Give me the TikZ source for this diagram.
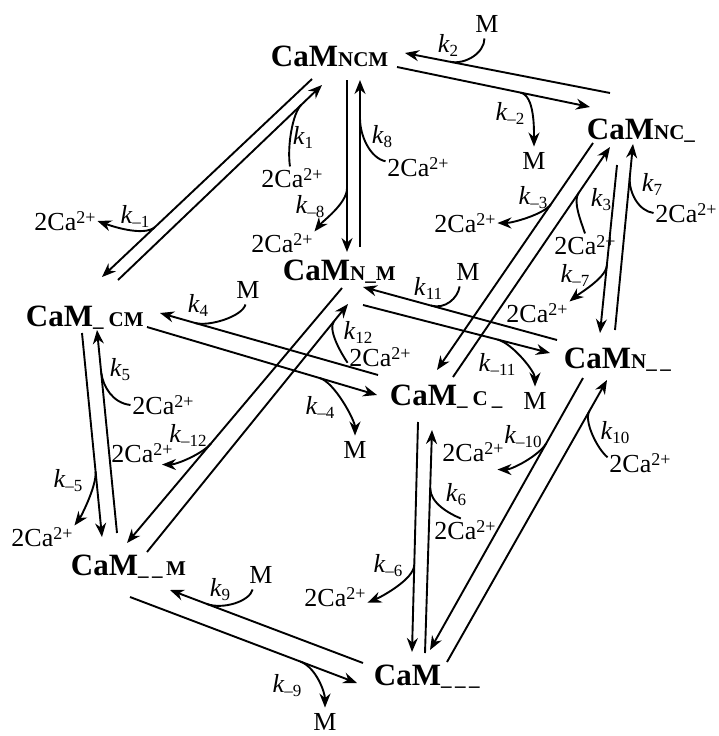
\documentclass[tikz,border=0pt]{standalone}
\usepackage{fontspec}
\setmainfont{Liberation Serif}
\usetikzlibrary{arrows.meta}

\newcommand{\sfx}[1]{{\fontsize{21}{21}\selectfont #1}}
\newcommand{\kk}[1]{\textit{k}\raisebox{-4pt}{\fontsize{17}{17}\selectfont #1}}
\newcommand{\caion}{2Ca\raisebox{7pt}{\fontsize{18}{18}\selectfont 2+}}

\begin{document}
\begin{tikzpicture}[x=1pt, y=-1pt, line width=1.9pt, >={Stealth[length=14pt,width=11pt]},
    cam/.style={font=\fontsize{31}{33}\selectfont\bfseries, inner sep=0pt, anchor=base west},
    lbl/.style={font=\fontsize{26}{28}\selectfont, inner sep=1pt},
    mol/.style={lbl, inner sep=5pt}]
    \useasboundingbox (0,0) rectangle (719,736);

    % Состояния
    \node[cam] (camNCM) at (270,66)  {CaM\sfx{NCM}};
    \node[cam] (camNC)  at (586,139) {CaM\sfx{NC\_}};
    \node[cam] (camCM)  at (25,326)  {CaM\sfx{\_\hspace{5pt}CM}};
    \node[cam] (camNM)  at (282,280) {CaM\sfx{N\_M}};
    \node[cam] (camN)   at (563,368) {CaM\sfx{N\_\,\_}};
    \node[cam] (camC)   at (389,405) {CaM\sfx{\_\hspace{5pt}C\hspace{4pt}\_}};
    \node[cam] (camM)   at (70,575)  {CaM\sfx{\_\,\_\,M}};
    \node[cam] (cam0)   at (373,685) {CaM\sfx{\_\,\_\,\_}};

    % k2 / k-2: NCM <-> NC_
    \coordinate (f2s) at (610,93);  \coordinate (f2e) at (405,53);
    \coordinate (r2s) at (397,67);  \coordinate (r2e) at (590,107);
    \draw[->] (f2s) -- (f2e) coordinate[pos=.78] (j2);
    \draw[->] (r2s) -- (r2e) coordinate[pos=.64] (jr2);
    \node[lbl] (k2)  at (448,45)  {\kk{2}};
    \node[mol] (m2)  at (487,24)  {M};
    \node[lbl] (kr2) at (510,113) {\kk{–2}};
    \node[mol] (mr2) at (534,161) {M};
    \draw (m2.-100) .. controls +(0,14) and +(16,3) .. (j2);
    \draw[->] (jr2) .. controls +(14,3) and +(0,-18) .. (mr2.north);

    % k1 / k-1: _CM <-> NCM
    \coordinate (f1s) at (118,280); \coordinate (f1e) at (322,85);
    \coordinate (r1s) at (312,79);  \coordinate (r1e) at (102,277);
    \draw[->] (f1s) -- (f1e) coordinate[pos=.90] (j1);
    \draw[->] (r1s) -- (r1e) coordinate[pos=.75] (jr1);
    \node[lbl] (k1)   at (303,137) {\kk{1}};
    \node[lbl] (ca1)  at (292,178) {\caion};
    \node[lbl] (kr1)  at (135,216) {\kk{–1}};
    \node[lbl] (car1) at (65,221)  {\caion};
    \draw (ca1.100) .. controls +(-3,-20) and +(-9,8) .. (j1);
    \draw[->] (jr1) .. controls +(-12,9) and +(14,5) .. (car1.east);

    % k8 / k-8: N_M <-> NCM
    \coordinate (f8s) at (360,247); \coordinate (f8e) at (360,80);
    \coordinate (r8s) at (347,80);  \coordinate (r8e) at (347,252);
    \draw[->] (f8s) -- (f8e) coordinate[pos=.77] (j8);
    \draw[->] (r8s) -- (r8e) coordinate[pos=.63] (jr8);
    \node[lbl] (k8)   at (382,137) {\kk{8}};
    \node[lbl] (ca8)  at (418,167) {\caion};
    \node[lbl] (kr8)  at (310,207) {\kk{–8}};
    \node[lbl] (car8) at (282,243) {\caion};
    \draw (ca8.170) .. controls +(-15,-3) and +(0,18) .. (j8);
    \draw[->] (jr8) .. controls +(0,15) and +(8,-10) .. (car8.north east);

    % k3 / k-3: _C_ <-> NC_
    \coordinate (f3s) at (453,377); \coordinate (f3e) at (610,147);
    \coordinate (r3s) at (593,143); \coordinate (r3e) at (437,370);
    \draw[->] (f3s) -- (f3e) coordinate[pos=.80] (j3);
    \draw[->] (r3s) -- (r3e) coordinate[pos=.27] (jr3);
    \node[lbl] (k3)   at (601,200) {\kk{3}};
    \node[lbl] (ca3)  at (585,245) {\caion};
    \node[lbl] (kr3)  at (533,198) {\kk{–3}};
    \node[lbl] (car3) at (465,223) {\caion};
    \draw (ca3.north) .. controls +(-4,-12) and +(-6,8) .. (j3);
    \draw[->] (jr3) .. controls +(-7,10) and +(15,0) .. (car3.east);

    % k7 / k-7: N__ <-> NC_
    \coordinate (f7s) at (615,330); \coordinate (f7e) at (633,144);
    \coordinate (r7s) at (617,165); \coordinate (r7e) at (600,333);
    \draw[->] (f7s) -- (f7e) coordinate[pos=.82] (j7);
    \draw[->] (r7s) -- (r7e) coordinate[pos=.60] (jr7);
    \node[lbl] (k7)   at (652,184) {\kk{7}};
    \node[lbl] (ca7)  at (686,213) {\caion};
    \node[lbl] (kr7)  at (575,275) {\kk{–7}};
    \node[lbl] (car7) at (537,313) {\caion};
    \draw (ca7.west) .. controls +(-15,-2) and +(-1,15) .. (j7);
    \draw[->] (jr7) .. controls +(-1,12) and +(10,-8) .. (car7.north east);

    % k5 / k-5: __M <-> _CM
    \coordinate (f5s) at (117,533); \coordinate (f5e) at (97,330);
    \coordinate (r5s) at (82,333);  \coordinate (r5e) at (102,537);
    \draw[->] (f5s) -- (f5e) coordinate[pos=.79] (j5);
    \draw[->] (r5s) -- (r5e) coordinate[pos=.68] (jr5);
    \node[lbl] (k5)   at (120,370) {\kk{5}};
    \node[lbl] (ca5)  at (163,405) {\caion};
    \node[lbl] (kr5)  at (68,481)  {\kk{–5}};
    \node[lbl] (car5) at (42,537)  {\caion};
    \draw (ca5.west) .. controls +(-18,-2) and +(2,14) .. (j5);
    \draw[->] (jr5) .. controls +(1,15) and +(6,-8) .. (car5.north east);

    % k12 / k-12: __M <-> N_M
    \coordinate (f12s) at (147,552); \coordinate (f12e) at (348,304);
    \coordinate (r12s) at (342,288); \coordinate (r12e) at (127,543);
    \draw[->] (f12s) -- (f12e) coordinate[pos=.93] (j12);
    \draw[->] (r12s) -- (r12e) coordinate[pos=.61] (jr12);
    \node[lbl] (k12)   at (358,332) {\kk{12}};
    \node[lbl] (ca12)  at (380,357) {\caion};
    \node[lbl] (kr12)  at (188,435) {\kk{–12}};
    \node[lbl] (car12) at (142,453) {\caion};
    \draw (ca12.190) .. controls +(-8,-12) and +(-6,8) .. (j12);
    \draw[->] (jr12) .. controls +(-8,10) and +(15,0) .. (car12.-30);

    % k4 / k-4: _C_ <-> _CM
    \coordinate (f4s) at (378,375); \coordinate (f4e) at (160,313);
    \coordinate (r4s) at (147,327); \coordinate (r4e) at (377,395);
    \draw[->] (f4s) -- (f4e) coordinate[pos=.84] (j4);
    \draw[->] (r4s) -- (r4e) coordinate[pos=.75] (jr4);
    \node[lbl] (k4)  at (198,305) {\kk{4}};
    \node[mol] (m4)  at (248,290) {M};
    \node[lbl] (kr4) at (320,407) {\kk{–4}};
    \node[mol] (mr4) at (355,450) {M};
    \draw (m4.-100) .. controls +(-3,12) and +(14,4) .. (j4);
    \draw[->] (jr4) .. controls +(15,4) and +(0,-15) .. (mr4.north);

    % k11 / k-11: N__ <-> N_M
    \coordinate (f11s) at (557,340); \coordinate (f11e) at (363,287);
    \coordinate (r11s) at (363,305); \coordinate (r11e) at (550,353);
    \draw[->] (f11s) -- (f11e) coordinate[pos=.65] (j11);
    \draw[->] (r11s) -- (r11e) coordinate[pos=.72] (jr11);
    \node[lbl] (k11)  at (428,288) {\kk{11}};
    \node[mol] (m11)  at (468,272) {M};
    \node[lbl] (kr11) at (497,364) {\kk{–11}};
    \node[mol] (mr11) at (535,401) {M};
    \draw (m11.-120) .. controls +(-2,12) and +(14,4) .. (j11);
    \draw[->] (jr11) .. controls +(15,4) and +(0,-15) .. (mr11.north);

    % k10 / k-10: ___ <-> N__
    \coordinate (f10s) at (447,662); \coordinate (f10e) at (607,380);
    \coordinate (r10s) at (583,378); \coordinate (r10e) at (430,650);
    \draw[->] (f10s) -- (f10e) coordinate[pos=.89] (j10);
    \draw[->] (r10s) -- (r10e) coordinate[pos=.24] (jr10);
    \node[lbl] (k10)   at (615,433) {\kk{10}};
    \node[lbl] (ca10)  at (640,463) {\caion};
    \node[lbl] (kr10)  at (523,437) {\kk{–10}};
    \node[lbl] (car10) at (473,452) {\caion};
    \draw (ca10.170) .. controls +(-10,-8) and +(-6,10) .. (j10);
    \draw[->] (jr10) .. controls +(-7,12) and +(15,0) .. ([shift={(-8,6)}]car10.south east);

    % k6 / k-6: ___ <-> _C_
    \coordinate (f6s) at (425,653); \coordinate (f6e) at (432,430);
    \coordinate (r6s) at (418,422); \coordinate (r6e) at (412,652);
    \draw[->] (f6s) -- (f6e) coordinate[pos=.74] (j6);
    \draw[->] (r6s) -- (r6e) coordinate[pos=.62] (jr6);
    \node[lbl] (k6)   at (456,495) {\kk{6}};
    \node[lbl] (ca6)  at (465,530) {\caion};
    \node[lbl] (kr6)  at (388,566) {\kk{–6}};
    \node[lbl] (car6) at (335,597) {\caion};
    \draw (ca6.110) .. controls +(-12,-5) and +(0,15) .. (j6);
    \draw[->] (jr6) .. controls +(0,15) and +(12,-5) .. (car6.-10);

    % k9 / k-9: ___ <-> __M
    \coordinate (f9s) at (363,663); \coordinate (f9e) at (170,590);
    \coordinate (r9s) at (130,597); \coordinate (r9e) at (357,683);
    \draw[->] (f9s) -- (f9e) coordinate[pos=.81] (j9);
    \draw[->] (r9s) -- (r9e) coordinate[pos=.75] (jr9);
    \node[lbl] (k9)  at (220,590) {\kk{9}};
    \node[mol] (m9)  at (261,575) {M};
    \node[lbl] (kr9) at (287,686) {\kk{–9}};
    \node[mol] (mr9) at (325,722) {M};
    \draw (m9.-120) .. controls +(-3,12) and +(16,6) .. (j9);
    \draw[->] (jr9) .. controls +(16,6) and +(0,-15) .. (mr9.north);

\end{tikzpicture}
\end{document}
